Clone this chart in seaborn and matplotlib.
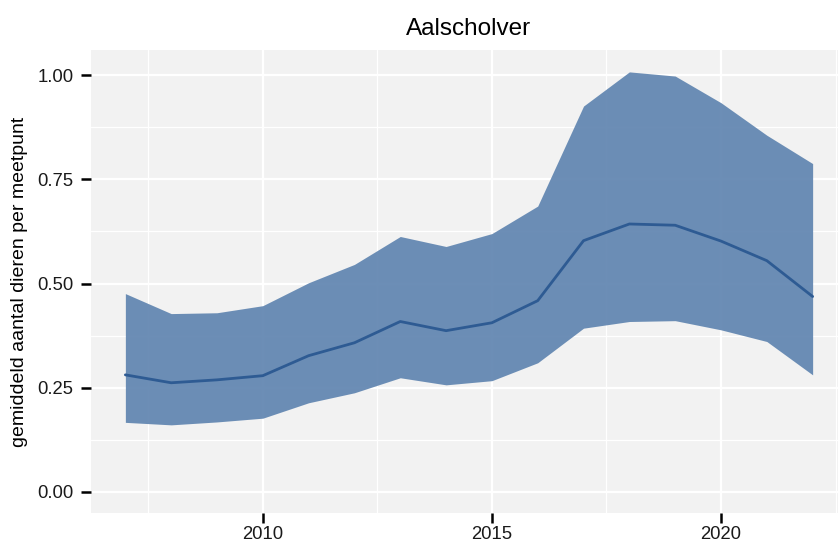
import matplotlib
matplotlib.use("Agg")
import matplotlib.pyplot as plt
import seaborn as sns
import pandas as pd
import numpy as np

years = list(range(2007, 2023))
mean_vals = [0.281, 0.262, 0.269, 0.279, 0.327, 0.358, 0.409, 0.387, 0.406, 0.459,
             0.603, 0.643, 0.640, 0.602, 0.555, 0.469]
upper_vals = [0.476, 0.428, 0.430, 0.447, 0.502, 0.546, 0.613, 0.589, 0.620, 0.686,
              0.926, 1.008, 0.998, 0.934, 0.856, 0.788]
lower_vals = [0.167, 0.161, 0.168, 0.177, 0.214, 0.238, 0.274, 0.257, 0.267, 0.310,
              0.393, 0.409, 0.411, 0.389, 0.361, 0.281]
y_ticks = [0.0, 0.25, 0.5, 0.75, 1.0]
y_ticklabels = ["0.00", "0.25", "0.50", "0.75", "1.00"]
x_ticks = [2010, 2015, 2020]
title = "Aalscholver"
ylabel = "gemiddeld aantal dieren per meetpunt"

df = pd.DataFrame({"jaar": years, "gem": mean_vals, "lo": lower_vals, "hi": upper_vals})

sns.set_style("white")
plt.rcParams["font.family"] = ["Liberation Sans", "DejaVu Sans"]

fig = plt.figure(figsize=(8.38, 5.43), dpi=100)
W, H = 838, 543
left, right, top, bottom = 91, 847, 50, 513
ax = fig.add_axes([left / W, (H - bottom) / H, (right - left) / W, (bottom - top) / H])
ax.set_facecolor("#F2F2F2")

ax.fill_between(df["jaar"], df["lo"], df["hi"], color="#6085B0", alpha=0.92, linewidth=0, zorder=2)
sns.lineplot(data=df, x="jaar", y="gem", ax=ax, color="#2E5B93", linewidth=2, zorder=3)

ax.set_xlim(2006.25, 2022.75)
ax.set_ylim(-0.0505, 1.0605)
ax.set_yticks(y_ticks)
ax.set_yticklabels(y_ticklabels)
ax.set_xticks(x_ticks)
ax.set_xticks([2007.5, 2012.5, 2017.5, 2022.5], minor=True)
ax.set_yticks([0.125, 0.375, 0.625, 0.875], minor=True)
ax.grid(True, which="major", color="white", linewidth=1.6, zorder=1)
ax.grid(True, which="minor", color="white", linewidth=0.9, zorder=1)
ax.set_axisbelow(True)
for s in ax.spines.values():
    s.set_visible(False)
ax.tick_params(axis="both", which="major", length=7, width=1.8, color="black",
               labelsize=13.3, labelcolor="#1a1a1a", left=True, bottom=True)
ax.tick_params(axis="y", which="major", pad=5.5)
ax.tick_params(axis="x", which="major", pad=2.5)
ax.tick_params(axis="both", which="minor", length=0)
ax.set_xlabel("")
ax.set_ylabel(ylabel, fontsize=14, color="black")
ax.yaxis.set_label_coords((28 - left) / (right - left), 0.5)
ax.set_title(title, fontsize=17.5, color="black", pad=11)

fig.savefig("out.png", dpi=100)
